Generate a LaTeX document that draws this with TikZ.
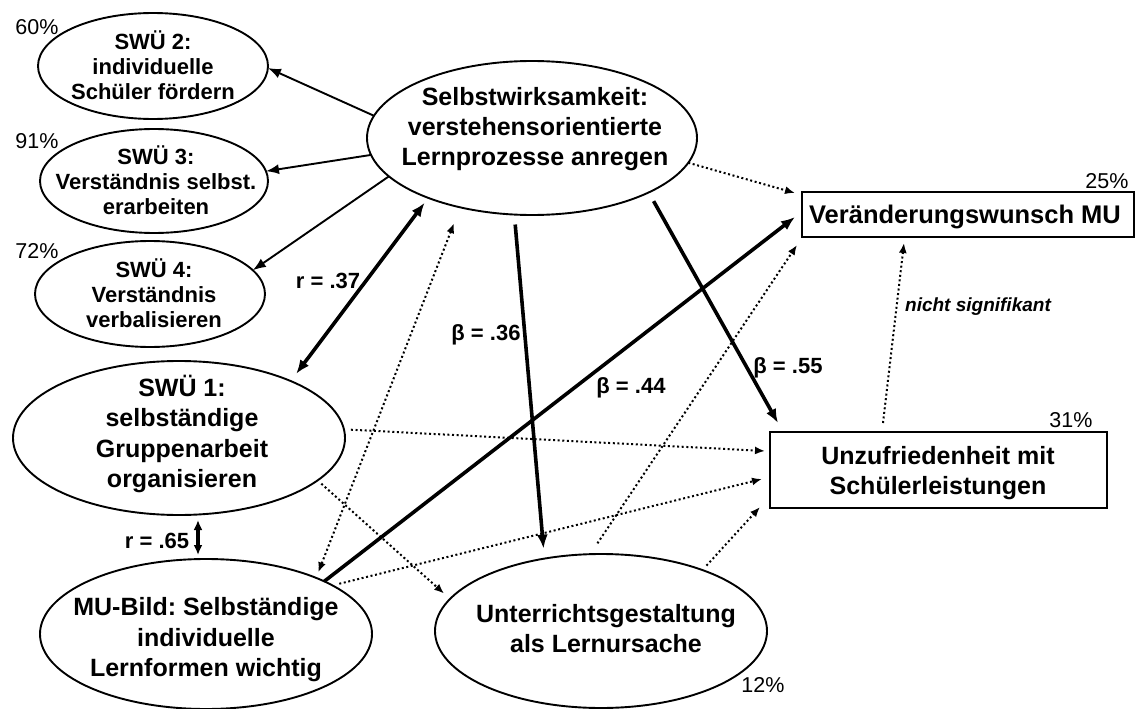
\documentclass[tikz,border=0pt]{standalone}
\usepackage{fontspec}
\setmainfont{Liberation Sans}
\frenchspacing
\usetikzlibrary{arrows.meta,shapes.geometric,calc}
\begin{document}
\begin{tikzpicture}[x=1pt,y=-1pt,
  ell/.style={draw,ellipse,line width=1.9pt,inner sep=0pt,outer sep=0pt},
  box/.style={draw,rectangle,line width=2.3pt,inner sep=0pt,outer sep=0pt},
  txts/.style={align=center,inner sep=0pt,font=\bfseries\fontsize{22}{25}\selectfont},
  txtl/.style={align=center,inner sep=0pt,font=\bfseries\fontsize{25}{30.5}\selectfont},
  lab/.style={anchor=base,inner sep=0pt,font=\bfseries\fontsize{22}{26}\selectfont},
  pct/.style={anchor=base,inner sep=0pt,font=\fontsize{21.5}{25}\selectfont},
  thinar/.style={line width=1.9pt,-{Latex[length=13pt,width=10pt]}},
  thickar/.style={line width=3.6pt,-{Latex[length=14pt,width=11pt]}},
  thickdbl/.style={line width=3.6pt,{Latex[length=14pt,width=11pt]}-{Latex[length=14pt,width=11pt]}},
  dotar/.style={line width=2pt,dash pattern=on 2pt off 2.6pt,-{Latex[length=10pt,width=8pt]}},
  dotdbl/.style={line width=2pt,dash pattern=on 2pt off 2.6pt,{Latex[length=10pt,width=8pt]}-{Latex[length=10pt,width=8pt]}}
]
\useasboundingbox (0,0) rectangle (1136,709);
\fill[white] (0,0) rectangle (1136,709);

% ellipses
\node[ell,minimum width=230pt,minimum height=106pt] (swu2) at (153,66) {};
\node[ell,minimum width=228pt,minimum height=104pt] (swu3) at (154,181) {};
\node[ell,minimum width=230pt,minimum height=106pt] (swu4) at (150,294) {};
\node[ell,minimum width=330pt,minimum height=154pt] (selbst) at (532,138) {};
\node[ell,minimum width=332pt,minimum height=154pt] (swu1) at (179,438) {};
\node[ell,minimum width=332pt,minimum height=150pt] (mubild) at (206,634) {};
\node[ell,minimum width=332pt,minimum height=154pt] (unterr) at (601,631) {};
% boxes
\node[box,minimum width=332pt,minimum height=45pt] (verand) at (968,214.5) {};
\node[box,minimum width=337pt,minimum height=76pt] (unzuf) at (938.5,470) {};

% texts
\node[txts] (swu2t) at (153,65) {SWÜ 2:\\individuelle\\Schüler fördern};
\node[txts] (swu3t) at (156,180) {SWÜ 3:\\Verständnis selbst.\\erarbeiten};
\node[txts] (swu4t) at (154,293) {SWÜ 4:\\Verständnis\\verbalisieren};
\node[txtl,font=\bfseries\fontsize{25}{30}\selectfont] (selbstt) at (535,129) {Selbstwirksamkeit:\\verstehensorientierte\\Lernprozesse anregen};
\node[txtl] (swu1t) at (182,434) {SWÜ 1:\\selbständige\\Gruppenarbeit\\organisieren};
\node[txtl] (mubildt) at (206,640) {MU-Bild: Selbständige\\individuelle\\Lernformen wichtig};
\node[txtl,font=\bfseries\fontsize{25}{30}\selectfont] (unterrt) at (606,629) {Unterrichtsgestaltung\\als Lernursache};
\node[txtl,font=\bfseries\fontsize{25.5}{30}\selectfont] (verandt) at (965,217) {Veränderungswunsch MU};
\node[txtl,font=\bfseries\fontsize{25}{30}\selectfont] (unzuft) at (938,473) {Unzufriedenheit mit\\Schülerleistungen};

% percentages
\node[pct] (p60) at (37,35) {60\%};
\node[pct] (p91) at (37,148) {91\%};
\node[pct] (p72) at (37,258) {72\%};
\node[pct] (p25) at (1107,188) {25\%};
\node[pct] (p31) at (1071,427) {31\%};
\node[pct] (p12) at (763,692) {12\%};

% connectors
\draw[thinar] (selbst.172.5) -- (swu2.-1);
\draw[thinar] (selbst.186) -- (swu3.5.5);
\draw[thinar] (selbst.195) -- (swu4.13.5);
\draw[thickdbl,shorten <=6pt,shorten >=9pt] (selbst.210.2) -- (swu1.27.5);
\draw[thickar,shorten <=10pt,shorten >=10pt] (selbst.257.6) -- (unterr.128.3);
\draw[thickar,shorten <=10pt] (selbst.-25.7) -- ([xshift=8pt,yshift=9pt]unzuf.north west);
\draw[dotar] (selbst.-9.6) -- ([xshift=-7pt,yshift=-1pt]verand.north west);
\draw[thickar] (mubild.24.8) -- ([xshift=-7pt,yshift=-2.5pt]verand.west);
\draw[dotdbl,shorten <=17pt,shorten >=6pt] (selbst.224.4) -- (mubild.27.2);
\draw[dotar,shorten <=7pt] (swu1.3.3) -- ([xshift=-5pt,yshift=19pt]unzuf.west);
\draw[dotar,shorten <=5pt,shorten >=8pt] (swu1.-17.6) -- (unterr.168.6);
\draw[dotar,shorten <=7pt] (mubild.21.5) -- ([xshift=-8pt,yshift=-9pt]unzuf.west);
\draw[dotar,shorten <=6pt] (unterr.31.7) -- ([xshift=-10pt,yshift=1pt]unzuf.south west);
\draw[dotar,shorten <=13pt] (unterr.98.5) -- ([xshift=-5pt,yshift=-8pt]verand.south west);
\draw[dotar] ([xshift=-55.5pt,yshift=9pt]unzuf.north) -- ([xshift=-64pt,yshift=-6pt]verand.south);
\draw[line width=3.2pt,{Latex[length=10pt,width=9pt]}-{Latex[length=10pt,width=9pt]}] ([xshift=19pt,yshift=-5pt]swu1.south) -- ([xshift=-8pt,yshift=4pt]mubild.north);

% path labels
\node[lab] (l37) at (328,288) {r = .37};
\node[lab] (l65) at (157,548) {r = .65};
\node[lab] (l36) at (486,340) {β = .36};
\node[lab] (l44) at (631,393) {β = .44};
\node[lab] (l55) at (788,373) {β = .55};
\node[inner sep=0pt,font=\bfseries\itshape\fontsize{19}{22}\selectfont] (lns) at (978,307) {nicht signifikant};
\end{tikzpicture}
\end{document}
